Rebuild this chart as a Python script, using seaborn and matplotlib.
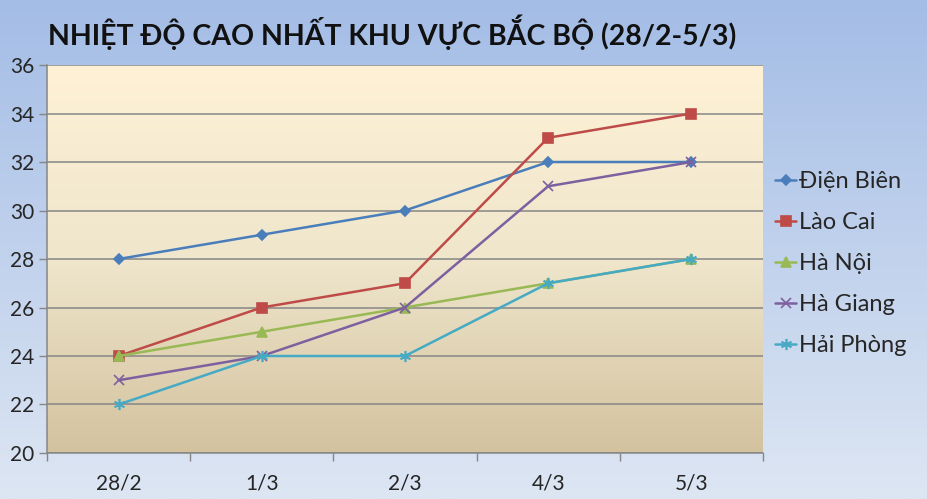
import numpy as np
import pandas as pd
import matplotlib
matplotlib.use('Agg')
import matplotlib.pyplot as plt
import seaborn as sns
from matplotlib.colors import LinearSegmentedColormap

days = ['28/2', '1/3', '2/3', '4/3', '5/3']
dien_bien = [28, 29, 30, 32, 32]
lao_cai = [24, 26, 27, 33, 34]
ha_noi = [24, 25, 26, 27, 28]
ha_giang = [23, 24, 26, 31, 32]
hai_phong = [22, 24, 24, 27, 28]
cities = ['Điện Biên', 'Lào Cai', 'Hà Nội', 'Hà Giang', 'Hải Phòng']
colors = ['#4A7EBB', '#BE4B48', '#98B954', '#7D60A0', '#46AAC5']
markers = ['D', 's', '^', 'x', (6, 2, 0)]
msizes = [5.5, 7, 7, 7, 8]

sns.set_style('white')
plt.rcParams['font.family'] = ['Lato', 'DejaVu Sans']

fig = plt.figure(figsize=(9.27, 4.99), dpi=100)

# figure background gradient
bg = fig.add_axes([0, 0, 1, 1], zorder=-10)
bg_cmap = LinearSegmentedColormap.from_list('bg', ['#dde6f3', '#a4bde6'])
bg.imshow(np.linspace(0, 1, 256).reshape(-1, 1), cmap=bg_cmap, aspect='auto',
          origin='lower', extent=[0, 1, 0, 1])
bg.axis('off')

ax = fig.add_axes([0.0507, 0.0922, 0.7723, 0.7775])
pa_cmap = LinearSegmentedColormap.from_list('pa', ['#d3c29e', '#efe6cc', '#fef1d6'])
ax.imshow(np.linspace(0, 1, 256).reshape(-1, 1), cmap=pa_cmap, aspect='auto',
          origin='lower', extent=[-0.5, 4.5, 20, 36], zorder=0)

series = [dien_bien, lao_cai, ha_noi, ha_giang, hai_phong]
for city, vals, c, m, ms in zip(cities, series, colors, markers, msizes):
    d = pd.DataFrame({'x': range(len(days)), 'y': vals})
    sns.lineplot(data=d, x='x', y='y', color=c, marker=m, markersize=ms,
                 markeredgecolor=c, markeredgewidth=1.2, linewidth=1.8,
                 label=city, ax=ax, zorder=3, sort=False)

ax.set_xlim(-0.5, 4.5)
ax.set_ylim(20, 36)
ax.set_yticks(range(20, 37, 2))
ax.set_xticks(range(len(days)))
ax.set_xticklabels(days)
ax.set_xticks(np.arange(-0.5, 5, 1), minor=True)
ax.grid(axis='y', color='#868686', linewidth=1.1, zorder=1)
ax.tick_params(axis='x', which='major', length=0, pad=15, labelsize=15)
ax.tick_params(axis='x', which='minor', length=6, color='#868686', width=1, direction='out', bottom=True)
ax.tick_params(axis='y', length=6, color='#868686', width=1, direction='out', left=True, pad=3, labelsize=15)
for s in ['top', 'right']:
    ax.spines[s].set_visible(False)
for s in ['left', 'bottom']:
    ax.spines[s].set_color('#868686')
    ax.spines[s].set_linewidth(1.1)
ax.set_xlabel('')
ax.set_ylabel('')

handles, labels = ax.get_legend_handles_labels()
leg = ax.legend(handles, labels, loc='center left', bbox_to_anchor=(1.0168, 0.488),
                frameon=False, handlelength=0.9, handletextpad=0.1,
                labelspacing=0.84, borderaxespad=0, borderpad=0,
                prop={'size': 17})

fig.text(0.423, 0.935, 'NHIỆT ĐỘ CAO NHẤT KHU VỰC BẮC BỘ (28/2-5/3)', ha='center', va='center',
         fontsize=20.5, fontweight='bold', color='#111111')

fig.savefig('out.png', dpi=100)
